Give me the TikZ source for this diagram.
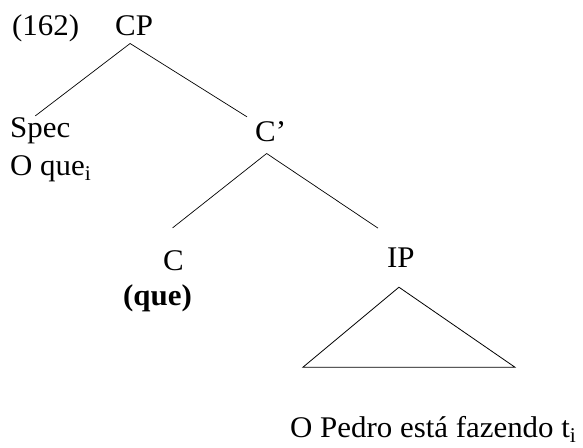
\documentclass[tikz,border=0pt]{standalone}
\usepackage{fontspec}
\setmainfont{Liberation Serif}[FakeStretch=1.03]
\usetikzlibrary{calc}
\newcommand{\treefont}{\fontsize{30}{36}\selectfont}

\begin{document}
\begin{tikzpicture}[
    x=1pt, y=-1pt,
    % tree labels
    cat/.style={
        anchor=base west, inner sep=0pt,
        font=\treefont, text=black
    },
    branch/.style={
        line width=0.7pt, color=black
    },
    roof/.style={
        line width=0.8pt, color=black, line join=miter
    },
]
\useasboundingbox (0,0) rectangle (583,447);

% ===== ROOT =====
\node[cat] (num) at (12,35) {(162)};
\node[cat] (cp) at (115,35) {CP};

% ===== FIRST LEVEL =====
\node[cat] (spec) at (10,137) {Spec};
\node[cat] (oque) at (10,175) {O que\textsubscript{i}};
\node[cat] (cbar) at (255,141) {C'};

% ===== SECOND LEVEL =====
\node[cat] (c) at (163,270) {C};
\node[cat] (que) at (123,305) {\textbf{(que)}};
\node[cat] (ip) at (387,267) {IP};

% ===== TERMINAL STRING =====
\node[cat] (ipstring) at (290,437) {O Pedro está fazendo t\textsubscript{i}};

% ===== BRANCHES =====
\draw[branch] ($(cp.south)+(-4,8)$) -- ($(spec.north)+(-5,-1)$);
\draw[branch] ($(cp.south)+(-4,8)$) -- ($(cbar.north west)+(-8,-4)$);
\draw[branch] ($(cbar.south)+(-4,12)$) -- ($(c.north)+(-1,-22)$);
\draw[branch] ($(cbar.south)+(-4,12)$) -- ($(ip.north west)+(-9,-19)$);

% ===== IP TRIANGLE =====
\coordinate (ipapex) at ($(ip.south)+(-2,20)$);
\draw[roof] (ipapex) -- ++(-96,80) -- ++(212,0) -- cycle;

\end{tikzpicture}
\end{document}
